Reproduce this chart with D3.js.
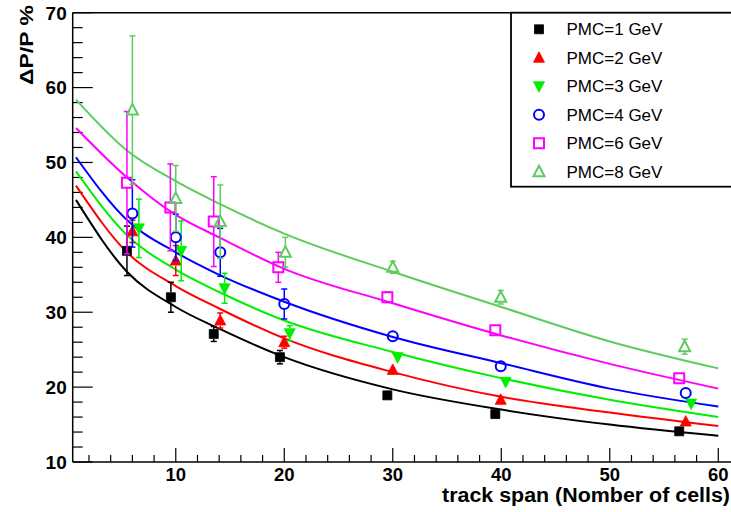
<!DOCTYPE html>
<html>
<head>
<meta charset="utf-8">
<script src="https://cdn.jsdelivr.net/npm/d3@7"></script>
<style>
  html, body { margin: 0; padding: 0; background: #fff; }
  svg { display: block; }
  text { font-family: "Liberation Sans", Arial, Helvetica, sans-serif; }
</style>
</head>
<body>
<svg id="chart" width="731" height="512"></svg>
<script>
// ---------------- data ----------------
const seriesNames = ["PMC=1 GeV", "PMC=2 GeV", "PMC=3 GeV", "PMC=4 GeV", "PMC=6 GeV", "PMC=8 GeV"];
const seriesColors = ["#000000", "#ff0000", "#00ee00", "#0000ff", "#ff00ff", "#5ccd5c"];
const seriesMarkers = ["squareFilled", "triUpFilled", "triDownFilled", "circleOpen", "squareOpen", "triUpOpen"];

// measured points (x = track span, y = dP/P %, err = error bar half length)
const x1 = [5.5, 9.55, 13.5, 19.6, 29.5, 39.45, 56.4];
const y1 = [38.2, 32.0, 27.1, 24.0, 18.9, 16.4, 14.1];
const e1 = [3.3, 2.0, 1.0, 0.9, 0.4, 0.4, 0.4];

const x2 = [6.0, 10.0, 14.1, 20.0, 30.0, 39.95, 57.0];
const y2 = [40.8, 36.9, 28.9, 26.0, 22.3, 18.3, 15.4];
const e2 = [1.5, 2.0, 1.0, 0.8, 0.4, 0.4, 0.4];

const x3 = [6.6, 10.5, 14.5, 20.5, 30.45, 40.4, 57.5];
const y3 = [41.2, 38.2, 33.2, 27.2, 24.0, 20.7, 17.8];
const e3 = [3.9, 4.0, 2.0, 1.0, 0.4, 0.4, 0.4];

const x4 = [6.0, 10.0, 14.1, 20.0, 30.0, 39.95, 57.0];
const y4 = [43.2, 40.0, 38.0, 31.1, 26.8, 22.8, 19.2];
const e4 = [4.5, 3.1, 3.2, 2.0, 0.4, 0.4, 0.4];

const x6 = [5.5, 9.5, 13.5, 19.45, 29.5, 39.45, 56.4];
const y6 = [47.3, 44.0, 42.1, 36.0, 32.0, 27.6, 21.2];
const e6 = [9.5, 5.8, 6.0, 2.0, 0.7, 0.4, 0.4];

const x8 = [6.0, 10.0, 14.1, 20.1, 30.0, 39.95, 56.9];
const y8 = [57.0, 45.2, 42.1, 38.0, 36.0, 32.0, 25.4];
const e8 = [9.9, 4.4, 4.9, 2.0, 0.8, 0.9, 1.0];

// fitted curves
const curveX = [0.8, 5.5, 10, 14, 20, 30, 40, 50, 60];
const fit1 = [45.0, 35.4, 30.7, 27.8, 24.0, 19.7, 17.0, 15.0, 13.5];
const fit2 = [46.9, 38.0, 33.5, 30.5, 26.5, 22.0, 18.7, 16.6, 14.8];
const fit3 = [48.8, 40.3, 35.7, 32.7, 28.9, 24.7, 21.2, 18.3, 16.0];
const fit4 = [50.7, 42.3, 38.0, 35.0, 31.4, 26.7, 23.2, 19.8, 17.4];
const fit6 = [54.6, 48.0, 43.0, 40.0, 35.8, 31.2, 26.9, 23.1, 19.8];
const fit8 = [58.4, 51.6, 47.5, 44.5, 40.5, 35.4, 30.7, 26.1, 22.5];

const xTicks = [10, 20, 30, 40, 50, 60];
const yTicks = [10, 20, 30, 40, 50, 60, 70];
const xTitle = "track span (Nomber of cells)";
const yTitle = "ΔP/P %";

// ---------------- build ----------------
const series = [
  {xs: x1, ys: y1, es: e1, fit: fit1},
  {xs: x2, ys: y2, es: e2, fit: fit2},
  {xs: x3, ys: y3, es: e3, fit: fit3},
  {xs: x4, ys: y4, es: e4, fit: fit4},
  {xs: x6, ys: y6, es: e6, fit: fit6},
  {xs: x8, ys: y8, es: e8, fit: fit8}
].map((s, i) => ({...s, name: seriesNames[i], color: seriesColors[i], marker: seriesMarkers[i]}));

const svg = d3.select("#chart");
const L = 72.7, T = 12.7, B = 462;
const x = d3.scaleLinear().domain([0.5, 61.5]).range([L, L + 61 * 10.85]);
const y = d3.scaleLinear().domain([10, 70]).range([B, T]);

// frame
svg.append("line").attr("x1", L).attr("x2", 740).attr("y1", T).attr("y2", T)
  .attr("stroke", "#000").attr("stroke-width", 1.5);

// axes with inward ticks
const yMinor = d3.range(10, 70.01, 2);
const xMinor = d3.range(2, 61, 2);

const gx = svg.append("g").attr("transform", `translate(0,${B})`);
gx.append("line").attr("x1", L).attr("x2", 740).attr("stroke", "#000").attr("stroke-width", 1.5);
gx.selectAll("line.minor").data(xMinor).join("line").attr("class", "minor")
  .attr("x1", d => x(d)).attr("x2", d => x(d)).attr("y1", 0)
  .attr("y2", d => xTicks.includes(d) ? -14 : -7)
  .attr("stroke", "#000").attr("stroke-width", 1.2);
gx.selectAll("text").data(xTicks).join("text")
  .attr("x", d => x(d)).attr("y", 18.5).attr("text-anchor", "middle")
  .attr("font-size", 18.5).attr("font-weight", "bold").text(d => d);

const gy = svg.append("g").attr("transform", `translate(${L},0)`);
gy.append("line").attr("y1", T).attr("y2", B).attr("stroke", "#000").attr("stroke-width", 1.5);
gy.selectAll("line.minor").data(yMinor).join("line").attr("class", "minor")
  .attr("y1", d => y(d)).attr("y2", d => y(d)).attr("x1", 0)
  .attr("x2", d => yTicks.includes(d) ? 20 : 10)
  .attr("stroke", "#000").attr("stroke-width", 1.2);
gy.selectAll("text").data(yTicks).join("text")
  .attr("x", -6).attr("y", d => y(d)).attr("dy", "0.36em").attr("text-anchor", "end")
  .attr("font-size", 19).attr("font-weight", "bold").text(d => d);

// titles
svg.append("text").attr("x", 730).attr("y", 502).attr("text-anchor", "end")
  .attr("font-size", 20).attr("font-weight", "bold")
  .attr("textLength", 288).attr("lengthAdjust", "spacingAndGlyphs").text(xTitle);
svg.append("text").attr("transform", "translate(33,5) rotate(-90)")
  .attr("text-anchor", "end").attr("font-size", 19).attr("font-weight", "bold")
  .attr("textLength", 80).attr("lengthAdjust", "spacingAndGlyphs").text(yTitle);

// curves
const line = d3.line().x(d => x(d[0])).y(d => y(d[1])).curve(d3.curveMonotoneX);
const plot = svg.append("g");
series.forEach(s => {
  plot.append("path").datum(curveX.map((cx, i) => [cx, s.fit[i]]))
    .attr("d", line).attr("fill", "none").attr("stroke", s.color).attr("stroke-width", 2);
});

// marker helpers
function markerPath(type) {
  switch (type) {
    case "squareFilled": return "M-4.5,-4.5H4.5V4.5H-4.5Z";
    case "squareOpen": return "M-5,-5H5V5H-5Z";
    case "triUpFilled":
    case "triUpOpen": return "M0,-6L5.5,4.5H-5.5Z";
    case "triDownFilled": return "M0,6L5.5,-4.5H-5.5Z";
    case "circleOpen": return "M5,0A5,5 0 1,1 -5,0A5,5 0 1,1 5,0Z";
  }
}
function isOpen(type) { return type.endsWith("Open"); }
function halfH(type) { return 5; }

function drawMarker(g, type, color, cx, cy) {
  g.append("path").attr("d", markerPath(type)).attr("transform", `translate(${cx},${cy})`)
    .attr("fill", isOpen(type) ? "none" : color)
    .attr("stroke", color).attr("stroke-width", isOpen(type) ? 2 : 0.8);
}

// error bars + markers
series.forEach(s => {
  const g = plot.append("g");
  s.xs.forEach((xv, i) => {
    const px = x(xv), py = y(s.ys[i]);
    const top = y(s.ys[i] + s.es[i]), bot = y(s.ys[i] - s.es[i]);
    const h = halfH(s.marker);
    if (py - top > h) {
      g.append("line").attr("x1", px).attr("x2", px).attr("y1", py - h).attr("y2", top)
        .attr("stroke", s.color).attr("stroke-width", 1.5);
      g.append("line").attr("x1", px - 3).attr("x2", px + 3).attr("y1", top).attr("y2", top)
        .attr("stroke", s.color).attr("stroke-width", 1.5);
    }
    if (bot - py > h) {
      g.append("line").attr("x1", px).attr("x2", px).attr("y1", py + h).attr("y2", bot)
        .attr("stroke", s.color).attr("stroke-width", 1.5);
      g.append("line").attr("x1", px - 3).attr("x2", px + 3).attr("y1", bot).attr("y2", bot)
        .attr("stroke", s.color).attr("stroke-width", 1.5);
    }
    drawMarker(g, s.marker, s.color, px, py);
  });
});

// legend
const lg = svg.append("g");
lg.append("rect").attr("x", 511).attr("y", T).attr("width", 240).attr("height", 174)
  .attr("fill", "#fff").attr("stroke", "#000").attr("stroke-width", 1.8);
const rowY = d3.scalePoint().domain(seriesNames).range([29.3, 171.7]);
series.forEach(s => {
  drawMarker(lg, s.marker, s.color, 539, rowY(s.name));
  lg.append("text").attr("x", 566.5).attr("y", rowY(s.name)).attr("dy", "0.36em")
    .attr("font-size", 17).text(s.name);
});
</script>
</body>
</html>
